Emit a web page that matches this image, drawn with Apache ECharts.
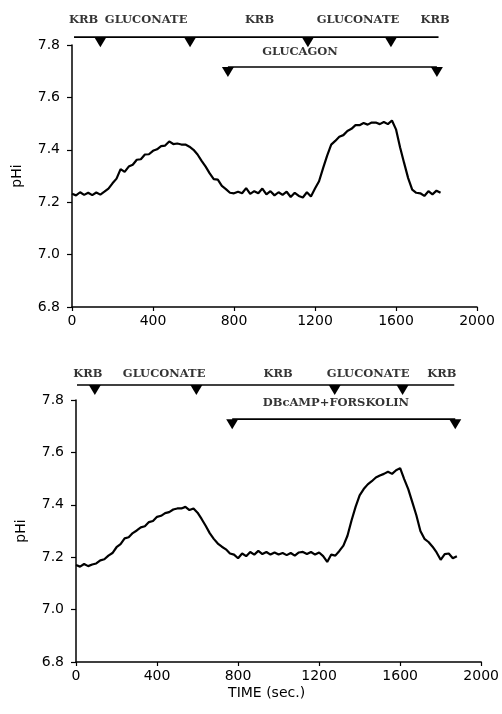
<!DOCTYPE html>
<html>
<head>
<meta charset="utf-8">
<script src="https://cdn.jsdelivr.net/npm/echarts@6/dist/echarts.min.js"></script>
<style>
  html,body{margin:0;padding:0;background:#fff;}
  #chart{width:502px;height:714px;}
</style>
</head>
<body>
<div id="chart"></div>
<script>
// sampling step of the traces (sec.)
const stepSec = 20;

// pHi trace, glucagon experiment (t = 0, 20, 40 ... 1820 s)
const phGlucagon = [
  7.232, 7.226, 7.238, 7.228, 7.236, 7.227, 7.237, 7.229, 7.240, 7.252,
  7.272, 7.290, 7.326, 7.316, 7.336, 7.343, 7.362, 7.364, 7.382, 7.383,
  7.396, 7.402, 7.414, 7.416, 7.432, 7.422, 7.424, 7.420, 7.420, 7.412,
  7.400, 7.382, 7.358, 7.336, 7.310, 7.288, 7.286, 7.262, 7.250, 7.236,
  7.234, 7.240, 7.234, 7.254, 7.232, 7.242, 7.234, 7.252, 7.230, 7.242,
  7.226, 7.238, 7.228, 7.240, 7.220, 7.236, 7.224, 7.218, 7.238, 7.222,
  7.252, 7.280, 7.330, 7.378, 7.420, 7.434, 7.450, 7.456, 7.472, 7.480,
  7.494, 7.494, 7.502, 7.496, 7.504, 7.504, 7.498, 7.506, 7.498, 7.512,
  7.478, 7.410, 7.350, 7.292, 7.248, 7.236, 7.234, 7.224, 7.242, 7.230,
  7.244, 7.236
];

// pHi trace, DBcAMP + forskolin experiment (t = 0, 20, 40 ... 1880 s)
const phForskolin = [
  7.170, 7.164, 7.174, 7.166, 7.172, 7.176, 7.188, 7.192, 7.206, 7.216,
  7.238, 7.250, 7.272, 7.276, 7.292, 7.302, 7.314, 7.318, 7.334, 7.338,
  7.354, 7.358, 7.368, 7.372, 7.382, 7.386, 7.386, 7.392, 7.380, 7.386,
  7.370, 7.346, 7.320, 7.292, 7.270, 7.252, 7.240, 7.230, 7.214, 7.210,
  7.196, 7.214, 7.204, 7.220, 7.210, 7.224, 7.212, 7.220, 7.210, 7.218,
  7.210, 7.216, 7.208, 7.216, 7.206, 7.218, 7.220, 7.212, 7.220, 7.210,
  7.218, 7.204, 7.182, 7.210, 7.206, 7.224, 7.244, 7.282, 7.340, 7.392,
  7.436, 7.460, 7.478, 7.490, 7.504, 7.512, 7.518, 7.526, 7.518, 7.532,
  7.540, 7.498, 7.460, 7.410, 7.360, 7.300, 7.270, 7.258, 7.240, 7.218,
  7.190, 7.212, 7.214, 7.196, 7.204
];

// solution changes (sec.)
const bathLabels = ['KRB', 'GLUCONATE', 'KRB', 'GLUCONATE', 'KRB'];
const topLabelTimes = [57, 366, 926, 1412, 1793];
const topChangeTimes = [140, 583, 1165, 1575];
const topBathSpan = [10, 1810];
const glucagonSpan = [770, 1802];

const botLabelTimes = [59, 435, 998, 1442, 1806];
const botChangeTimes = [93, 594, 1277, 1612];
const botBathSpan = [5, 1867];
const forskolinSpan = [771, 1872];

const yTickMin = 6.8, yTickMax = 7.8;
const xTickMax = 2000;

const ink = '#000';
const cueFont = {fontFamily:'DejaVu Serif', fontWeight:'bold', fontSize:11.5, color:'#000'};
const tri = 'path://M0,0L12,0L6,10Z';

function trace(values){
    return values.map((v,i)=>[i*stepSec, v]);
}

// horizontal bar with hanging triangles
function cueBar(idx, span, level, marks){
    return [{
        type:'line', xAxisIndex:idx, yAxisIndex:idx, clip:false, silent:true,
        showSymbol:false, lineStyle:{color:ink, width:1.6},
        data: span.map(t=>[t, level])
    },{
        type:'scatter', xAxisIndex:idx, yAxisIndex:idx, clip:false, silent:true,
        symbol:tri, symbolSize:[12,10], symbolOffset:[0,5],
        itemStyle:{color:ink, opacity:1},
        data: marks.map(t=>[t, level])
    }];
}

function textRow(idx, names, times, level){
    return {
        type:'scatter', xAxisIndex:idx, yAxisIndex:idx, clip:false, silent:true,
        symbolSize:0,
        label:{show:true, position:'inside', formatter:'{b}', ...cueFont},
        data: names.map((n,i)=>({name:n, value:[times[i], level]}))
    };
}

function xAxis(idx, withName){
    let ax = {
        type:'value', gridIndex:idx, min:0, max:xTickMax, interval:400,
        axisLine:{lineStyle:{color:ink, width:1.5}},
        axisTick:{show:true, length:4, lineStyle:{color:ink, width:1.2}},
        axisLabel:{color:ink, fontFamily:'DejaVu Sans', fontSize:14, margin:7,
            formatter:v=>String(v)},
        splitLine:{show:false}
    };
    if(withName){
        ax.name = 'TIME (sec.)';
        ax.nameLocation = 'middle';
        ax.nameGap = 24;
        ax.nameTextStyle = {color:ink, fontFamily:'DejaVu Sans', fontSize:14, padding:[0,24,0,0]};
    }
    return ax;
}

function yAxis(idx){
    return {
        type:'value', gridIndex:idx, min:yTickMin, max:yTickMax, interval:0.2,
        name:'pHi', nameLocation:'middle', nameGap:48, nameRotate:90,
        nameTextStyle:{color:ink, fontFamily:'DejaVu Sans', fontSize:14},
        axisLine:{show:true, lineStyle:{color:ink, width:1.5}},
        axisTick:{show:true, length:5, lineStyle:{color:ink, width:1.2}},
        axisLabel:{color:ink, fontFamily:'DejaVu Sans', fontSize:14, margin:12,
            formatter:v=>v.toFixed(1)},
        splitLine:{show:false}
    };
}

var myChart = echarts.init(document.getElementById('chart'), null, {renderer:'canvas'});
var option = {
    backgroundColor:'#fff',
    animation:false,
    grid:[
        {left:72, right:25, top:45, height:262},
        {left:76, right:19, top:400, height:262}
    ],
    xAxis:[xAxis(0,false), xAxis(1,true)],
    yAxis:[yAxis(0), yAxis(1)],
    series:[
        {type:'line', xAxisIndex:0, yAxisIndex:0, showSymbol:false,
         lineStyle:{color:ink, width:2.2}, data:trace(phGlucagon)},
        {type:'line', xAxisIndex:1, yAxisIndex:1, showSymbol:false,
         lineStyle:{color:ink, width:2.2}, data:trace(phForskolin)},
        ...cueBar(0, topBathSpan, 7.83, topChangeTimes),
        ...cueBar(0, glucagonSpan, 7.716, glucagonSpan),
        textRow(0, bathLabels, topLabelTimes, 7.895),
        textRow(0, ['GLUCAGON'], [1126], 7.773),
        ...cueBar(1, botBathSpan, 7.857, botChangeTimes),
        ...cueBar(1, forskolinSpan, 7.727, forskolinSpan),
        textRow(1, bathLabels, botLabelTimes, 7.899),
        textRow(1, ['DBcAMP+FORSKOLIN'], [1283], 7.789)
    ]
};
myChart.setOption(option);
</script>
</body>
</html>
